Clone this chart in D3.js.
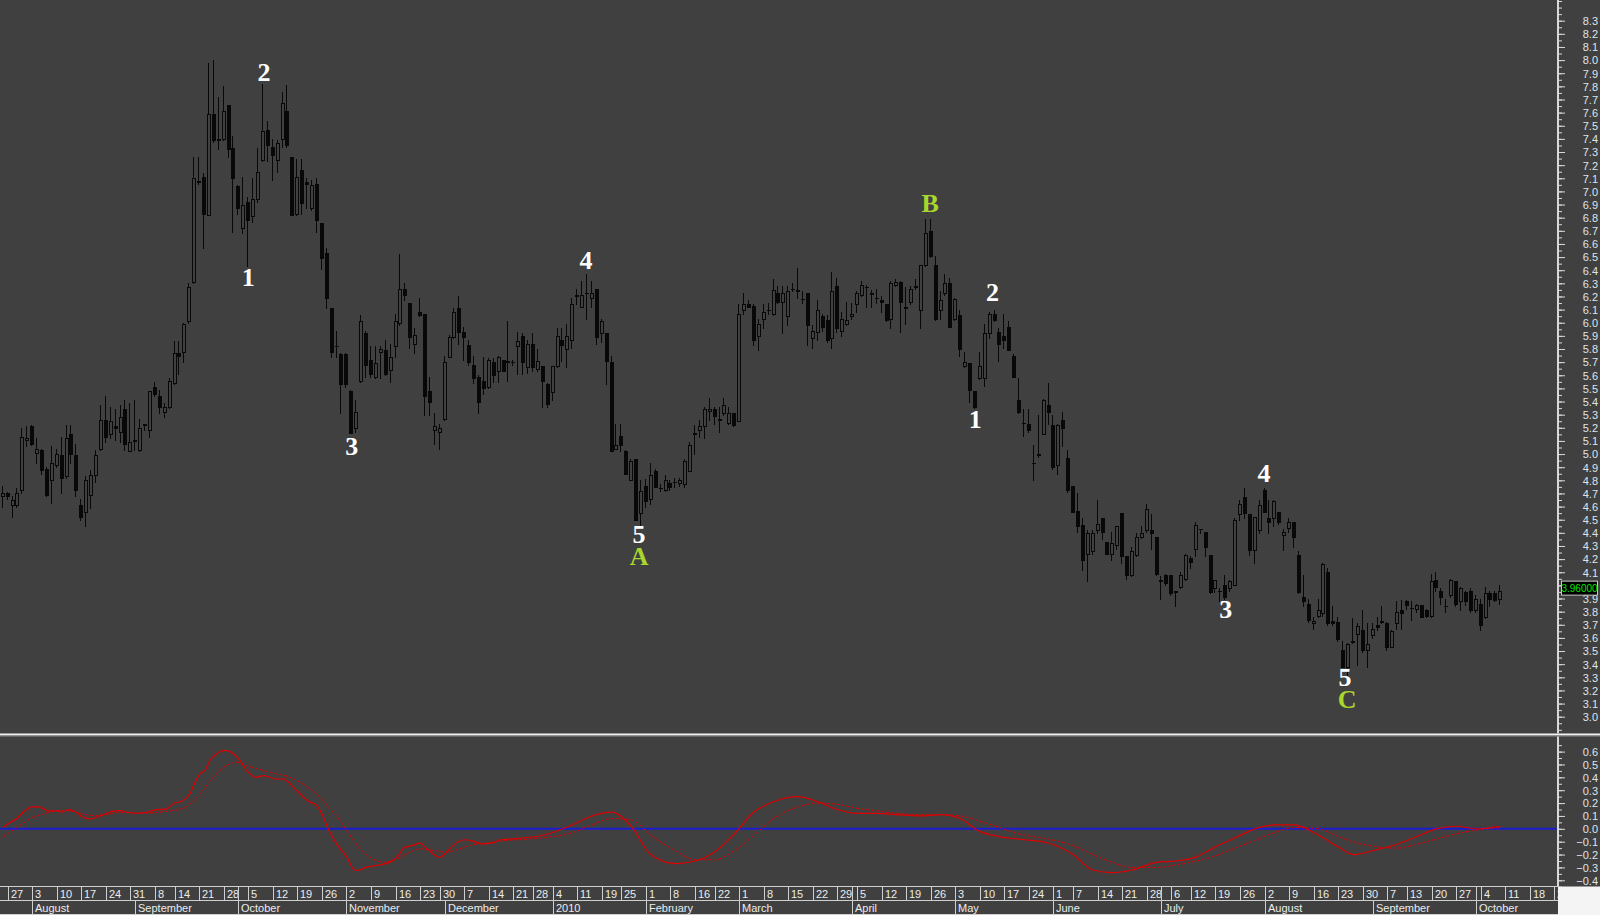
<!DOCTYPE html>
<html>
<head>
<meta charset="utf-8">
<script src="https://cdn.jsdelivr.net/npm/d3@7"></script>
<style>
html, body { margin: 0; padding: 0; background: #404040; overflow: hidden; }
svg { display: block; }
.axis text { font-family: "Liberation Sans", Arial, sans-serif; font-size: 11px; fill: #dfe4ea; }
.axis line { stroke: #d8d8d8; }
.dates text { font-family: "Liberation Sans", Arial, sans-serif; font-size: 11px; fill: #ececec; }
</style>
</head>
<body>
<svg id="chart" width="1600" height="915"></svg>
<script>
// daily prices, one value per trading day from 24 Jul 2009
const opens = [
  4.68,4.70,4.61,4.61,4.73,5.11,5.21,5.01,5.03,4.89,
  4.80,4.92,4.99,4.83,5.15,4.99,4.61,4.56,4.69,4.84,
  5.04,5.26,5.15,5.21,5.17,5.34,5.02,5.11,5.03,5.22,
  5.18,5.51,5.44,5.32,5.36,5.54,5.77,5.78,6.01,6.31,
  7.07,7.11,6.82,7.59,7.40,7.40,7.66,7.33,7.04,6.72,
  6.92,6.81,6.94,7.24,7.47,7.34,7.24,7.40,7.61,7.26,
  6.83,7.16,7.07,6.87,7.06,6.76,6.53,6.11,5.82,5.76,
  5.76,5.48,5.20,5.56,5.92,5.72,5.59,5.78,5.79,5.64,
  5.82,6.00,6.26,6.15,5.84,6.08,6.07,5.48,5.18,5.17,
  5.27,5.74,5.89,6.11,5.93,5.83,5.68,5.59,5.56,5.51,
  5.70,5.63,5.72,5.70,5.70,5.82,
  5.90,5.66,5.84,5.65,5.67,5.53,5.47,5.67,5.87,5.80,
  5.87,6.20,6.12,6.23,6.19,6.26,5.92,5.92,5.70,5.04,
  5.14,5.02,4.80,4.96,4.55,4.76,4.66,4.87,4.74,4.73,
  4.78,4.79,4.78,4.77,4.87,5.15,5.18,5.21,5.33,5.34,
  5.27,5.31,5.24,5.31,5.25,6.10,6.14,6.13,5.90,6.03,
  6.10,6.07,6.23,6.16,6.05,6.26,6.25,6.18,6.23,5.88,
  5.93,6.05,6.02,5.88,6.28,5.94,5.99,6.05,6.14,6.21,
  6.27,6.23,6.19,6.17,6.14,6.03,6.29,6.31,6.12,6.16,
  6.27,6.10,6.44,6.70,6.44,6.10,6.23,6.30,6.03,6.06,
  5.67,5.69,5.48,5.58,5.58,5.92,6.07,5.93,5.90,5.97,
  5.75,5.41,5.24,5.23,4.93,4.99,
  5.15,5.37,5.22,4.92,5.26,4.97,4.76,4.57,4.46,4.24,
  4.26,4.42,4.51,4.33,4.24,4.31,4.55,4.22,4.08,4.23,
  4.37,4.42,4.42,4.37,4.04,4.08,4.08,3.96,3.99,4.05,
  4.21,4.28,4.43,4.41,4.23,3.98,3.96,4.00,3.98,4.00,
  4.54,4.67,4.54,4.27,4.42,4.73,4.51,4.51,4.56,4.38,
  4.44,4.48,4.23,3.91,3.86,3.71,3.77,3.79,4.10,3.73,
  3.72,3.51,3.38,3.57,3.63,3.66,3.51,3.62,3.70,3.73,
  3.71,3.53,3.71,3.81,3.88,3.83,3.82,3.85,3.81,3.77,
  4.04,3.96,3.84,3.93,4.03,3.88,3.95,3.96,3.81,3.86,
  3.76,3.94,3.94,3.90
];
const highs = [
  4.76,4.71,4.68,4.74,5.20,5.21,5.22,5.12,5.04,4.90,
  5.06,5.04,5.13,5.22,5.22,5.08,4.66,4.83,4.88,5.03,
  5.37,5.44,5.36,5.34,5.37,5.41,5.39,5.41,5.27,5.23,
  5.48,5.55,5.49,5.39,5.58,5.86,5.86,6.00,6.30,7.26,
  7.26,7.14,7.98,8.00,7.72,7.80,7.66,7.42,7.05,7.11,
  6.96,7.10,7.33,7.82,7.54,7.40,7.39,7.76,7.81,7.26,
  7.25,7.25,7.10,7.09,7.10,6.76,6.57,6.11,5.94,5.77,
  5.77,5.49,5.41,6.06,5.94,5.82,5.82,5.82,5.87,5.84,
  6.07,6.52,6.30,6.15,5.96,6.19,6.07,5.59,5.31,5.23,
  5.75,5.91,6.11,6.20,5.97,5.87,5.75,5.60,5.74,5.73,
  5.73,5.75,5.72,6.01,5.72,5.93,
  5.92,5.87,5.92,5.80,5.67,5.54,5.67,5.96,5.96,5.99,
  6.19,6.26,6.32,6.37,6.32,6.26,6.03,5.92,5.75,5.23,
  5.23,5.03,4.96,4.96,4.80,4.81,4.93,4.89,4.77,4.84,
  4.80,4.82,4.82,4.96,5.09,5.22,5.26,5.36,5.43,5.36,
  5.36,5.43,5.36,5.31,6.14,6.23,6.17,6.14,6.03,6.14,
  6.15,6.33,6.28,6.28,6.28,6.30,6.42,6.24,6.23,5.98,
  6.17,6.07,6.06,6.39,6.34,6.08,6.16,6.15,6.24,6.32,
  6.29,6.25,6.26,6.20,6.14,6.32,6.33,6.32,6.27,6.28,
  6.33,6.44,6.79,6.79,6.51,6.24,6.37,6.34,6.19,6.10,
  5.78,5.69,5.48,5.78,5.99,6.08,6.10,5.96,6.07,6.01,
  5.76,5.58,5.34,5.34,5.07,5.30,
  5.42,5.54,5.30,5.23,5.32,5.03,4.76,4.70,4.51,4.42,
  4.42,4.65,4.51,4.33,4.41,4.45,4.55,4.22,4.29,4.40,
  4.45,4.62,4.54,4.37,4.07,4.09,4.08,3.96,4.10,4.24,
  4.22,4.48,4.43,4.41,4.23,4.04,3.98,4.08,4.04,4.51,
  4.65,4.74,4.54,4.52,4.65,4.74,4.65,4.65,4.56,4.43,
  4.51,4.48,4.26,4.08,3.90,3.76,3.90,4.17,4.13,3.84,
  3.76,3.58,3.56,3.75,3.71,3.81,3.71,3.71,3.76,3.84,
  3.72,3.66,3.88,3.89,3.89,3.88,3.86,3.85,3.82,4.09,
  4.10,3.98,3.90,4.05,4.03,3.99,3.96,3.98,3.93,3.90,
  3.99,3.96,3.96,4.00
];
const lows = [
  4.60,4.66,4.52,4.60,4.70,5.06,5.07,4.93,4.85,4.68,
  4.63,4.90,4.70,4.82,4.93,4.68,4.50,4.45,4.59,4.79,
  5.03,5.09,5.12,5.11,5.09,5.03,5.02,5.03,5.02,5.18,
  5.13,5.44,5.31,5.28,5.35,5.53,5.61,5.70,6.00,6.30,
  7.06,6.57,6.82,7.38,7.32,7.39,7.26,6.69,6.83,6.68,
  6.43,6.77,6.92,7.23,7.23,7.09,7.15,7.34,7.34,6.82,
  6.82,6.83,6.87,6.86,6.69,6.41,6.11,5.74,5.74,5.31,
  5.51,5.16,5.17,5.55,5.59,5.59,5.58,5.58,5.60,5.55,
  5.74,5.98,6.17,5.81,5.77,6.05,5.30,5.30,5.08,5.04,
  5.26,5.74,5.88,5.84,5.72,5.68,5.54,5.31,5.46,5.50,
  5.55,5.55,5.63,5.56,5.68,5.61,
  5.61,5.62,5.63,5.63,5.36,5.36,5.41,5.66,5.71,5.66,
  5.81,6.14,6.12,6.03,6.12,5.84,5.85,5.53,5.02,5.04,
  5.02,4.85,4.80,4.50,4.44,4.60,4.62,4.75,4.72,4.72,
  4.73,4.75,4.76,4.75,4.87,5.00,5.13,5.12,5.26,5.23,
  5.17,5.30,5.23,5.21,5.25,6.07,6.12,5.83,5.79,5.96,
  6.07,6.06,6.15,5.92,5.98,6.24,6.19,6.15,5.83,5.81,
  5.87,5.94,5.85,5.81,5.93,5.90,5.98,6.03,6.08,6.20,
  6.12,6.12,6.15,6.08,6.01,5.96,6.28,5.93,5.99,6.14,
  6.26,5.96,6.43,6.50,6.02,6.03,6.21,5.97,6.02,5.75,
  5.66,5.40,5.35,5.57,5.52,5.88,6.01,5.71,5.81,5.79,
  5.59,5.31,5.14,5.17,4.80,4.98,
  5.15,5.23,4.89,4.85,5.06,4.71,4.56,4.41,4.12,4.03,
  4.24,4.40,4.35,4.24,4.19,4.28,4.17,4.05,4.07,4.22,
  4.36,4.41,4.28,4.08,3.90,4.00,3.93,3.84,3.98,4.04,
  4.13,4.22,4.40,4.22,3.94,3.95,3.88,3.90,3.96,4.00,
  4.50,4.51,4.23,4.17,4.40,4.56,4.40,4.45,4.47,4.27,
  4.41,4.29,3.94,3.84,3.72,3.67,3.76,3.77,3.70,3.70,
  3.58,3.38,3.32,3.56,3.39,3.49,3.38,3.60,3.66,3.71,
  3.51,3.53,3.67,3.67,3.82,3.74,3.80,3.76,3.76,3.76,
  3.96,3.86,3.80,3.91,3.84,3.81,3.85,3.80,3.80,3.66,
  3.75,3.84,3.88,3.86
];
const closes = [
  4.70,4.68,4.65,4.70,5.13,5.12,5.08,5.04,4.88,4.69,
  4.93,5.00,4.82,5.12,5.00,4.73,4.52,4.80,4.84,4.99,
  5.26,5.13,5.25,5.20,5.28,5.08,5.09,5.10,5.20,5.23,
  5.48,5.46,5.36,5.36,5.56,5.77,5.75,5.99,6.27,7.10,
  7.08,6.83,7.59,7.39,7.39,7.61,7.32,7.10,6.87,6.90,
  6.78,6.94,7.15,7.46,7.35,7.28,7.37,7.67,7.35,6.82,
  7.11,6.91,7.06,7.05,6.78,6.49,6.19,5.78,5.82,5.53,
  5.53,5.16,5.32,6.01,5.68,5.61,5.69,5.80,5.61,5.74,
  6.01,6.26,6.21,5.89,5.91,6.06,5.44,5.40,5.21,5.20,
  5.70,5.89,6.08,5.93,5.89,5.70,5.58,5.40,5.50,5.72,
  5.60,5.74,5.63,5.71,5.70,5.86,
  5.70,5.84,5.66,5.71,5.56,5.38,5.67,5.90,5.83,5.90,
  6.14,6.21,6.21,6.23,6.23,5.89,6.01,5.71,5.02,5.07,
  5.07,4.85,4.95,4.50,4.72,4.64,4.84,4.75,4.74,4.80,
  4.75,4.79,4.80,4.95,5.07,5.16,5.21,5.34,5.34,5.29,
  5.26,5.37,5.31,5.22,6.07,6.14,6.12,5.87,5.99,6.08,
  6.10,6.25,6.16,6.23,6.24,6.26,6.24,6.18,5.98,5.94,
  6.10,5.97,5.87,6.24,5.96,6.03,6.02,6.07,6.23,6.29,
  6.27,6.22,6.19,6.16,6.02,6.30,6.31,6.16,6.11,6.26,
  6.28,6.44,6.68,6.51,6.03,6.17,6.30,5.97,6.18,5.80,
  5.70,5.49,5.36,5.67,5.92,6.07,6.02,5.84,5.87,5.79,
  5.59,5.32,5.24,5.18,4.93,5.00,
  5.41,5.32,4.90,5.22,5.20,4.73,4.56,4.45,4.19,4.40,
  4.40,4.47,4.41,4.24,4.32,4.45,4.22,4.08,4.26,4.37,
  4.40,4.58,4.40,4.09,4.03,4.02,3.94,3.95,4.08,4.23,
  4.18,4.46,4.43,4.29,3.95,4.04,3.96,3.91,4.03,4.50,
  4.62,4.55,4.27,4.52,4.61,4.56,4.48,4.64,4.48,4.41,
  4.48,4.37,3.95,3.88,3.74,3.73,3.81,4.16,3.71,3.71,
  3.59,3.38,3.55,3.58,3.69,3.51,3.55,3.67,3.68,3.72,
  3.53,3.65,3.80,3.79,3.85,3.83,3.85,3.76,3.77,4.03,
  3.99,3.91,3.84,4.04,3.86,3.98,3.88,3.81,3.90,3.70,
  3.94,3.90,3.89,3.96
];

// calendar of the time axis
const firstDay = "2009-07-24";
const lastDay = "2010-10-29";
const holidays = ["2009-09-07","2009-11-26","2009-12-25","2010-01-01","2010-01-18",
                  "2010-02-15","2010-04-02","2010-05-31","2010-07-05","2010-09-06"];

// oscillator (solid) and its signal (dashed), read at candle positions
const oscAt = [0,1.5,2.9,4.2,6.2,7.3,8.3,9.3,11,12,13.4,14.7,16.1,17.8,19.1,20.5,22.5,23.9,25.3,27.3,
  29.3,31,33.4,34.7,36.8,38.1,39.2,40.2,41.2,42.2,43.6,45.3,47,48.3,50,51.7,53.1,54.4,55.8,57.1,
  59.2,60.9,62.6,63.6,65,66.3,68,70.1,71.4,72.1,74.1,76.2,78.9,80.6,81.9,83.6,85,86.4,89.1,90.4,
  92.1,94.2,95.8,97.6,99.6,101.3,103,110,116,120,124,128,132,137,141,145,149,153,157,162,
  166,170,174,178,182,187,191,195,199,203,207,213,218,222,226,230,235,239,243,247,
  251,255,259,263,268,272,275,280,284,288,292,296,300,305];
const oscVals = [0.01,0.05,0.08,0.13,0.17,0.17,0.155,0.14,0.14,0.13,0.147,0.137,0.096,0.077,0.09,0.11,0.137,0.142,0.129,0.121,
  0.129,0.147,0.155,0.194,0.22,0.272,0.363,0.427,0.453,0.531,0.583,0.609,0.583,0.531,0.44,0.401,0.414,0.401,0.386,0.388,
  0.324,0.259,0.207,0.194,0.116,0.0,-0.117,-0.22,-0.311,-0.324,-0.298,-0.285,-0.259,-0.207,-0.142,-0.129,-0.111,-0.155,-0.22,-0.181,
  -0.117,-0.085,-0.096,-0.117,-0.111,-0.085,-0.08,-0.05,0.03,0.10,0.13,0.02,-0.20,-0.27,-0.25,-0.18,-0.04,0.13,0.21,0.25,
  0.21,0.15,0.12,0.12,0.11,0.10,0.11,0.08,-0.02,-0.06,-0.08,-0.11,-0.20,-0.32,-0.34,-0.32,-0.26,-0.25,-0.22,-0.14,
  -0.07,0.0,0.03,0.03,-0.05,-0.14,-0.20,-0.16,-0.12,-0.06,0.0,0.02,0.0,0.02];
const sigAt = [0,1.5,3.5,6.2,8.3,10.3,13,15.7,18.5,21.2,23.9,26.6,29.3,32,34.7,37.5,40.2,42.9,45.6,47.7,
  49.7,53.1,55.8,58.5,60.5,62.6,64.6,66.7,68.7,70.7,72.8,74.8,77.5,79.6,82.3,85,87.7,90.4,93.1,95.8,
  98.6,101.3,103,110,116,120,124,128,132,137,141,145,149,153,157,162,166,170,174,178,
  182,187,191,195,199,203,207,213,218,222,226,230,235,239,243,247,251,255,259,263,
  268,272,275,280,284,288,292,296,300,305];
const sigVals = [-0.065,-0.026,0.026,0.09,0.116,0.137,0.142,0.121,0.103,0.111,0.129,0.124,0.121,0.129,0.142,0.173,0.272,0.401,0.492,0.518,
  0.492,0.453,0.427,0.401,0.362,0.311,0.246,0.155,0.065,-0.052,-0.155,-0.22,-0.259,-0.246,-0.194,-0.155,-0.168,-0.181,-0.155,-0.122,
  -0.111,-0.096,-0.09,-0.07,-0.03,0.03,0.08,0.07,-0.05,-0.17,-0.24,-0.24,-0.17,-0.05,0.08,0.17,0.20,0.19,0.16,0.14,
  0.12,0.11,0.11,0.10,0.06,0.01,-0.04,-0.08,-0.13,-0.20,-0.26,-0.30,-0.30,-0.28,-0.25,-0.21,-0.15,-0.09,-0.03,0.01,
  0.0,-0.06,-0.10,-0.14,-0.15,-0.12,-0.08,-0.04,-0.01,0.01];

// elliott wave marks: text, candle position, price level
const waveText  = ["2","1","3","4","5","A","B","2","1","3","4","5","C"];
const waveAt    = [53.2,50,71.1,118.8,129.6,129.6,188.9,201.6,198.1,249.1,256.9,273.4,273.8];
const wavePrice = [7.905,6.343,5.056,6.477,4.387,4.223,6.905,6.233,5.265,3.817,4.85,3.299,3.128];

// axis ticks
const priceTicks = d3.range(30, 84).map(d => d / 10);
const priceMinor = d3.range(58, 170).map(d => d / 20);
const oscTicks = d3.range(-4, 7).map(d => d / 10);
const oscMinor = d3.range(-9, 14).map(d => d / 20);
const lastPrice = 3.96;

const bg = "#404040";
const axisX = 1558;

var svg = d3.select("#chart");
svg.append("rect").attr("width", 1600).attr("height", 915).attr("fill", bg);

var n = Math.min(opens.length, highs.length, lows.length, closes.length);

// scales
var x = d3.scaleLinear().domain([0, 305]).range([2.7, 1500.25]);
var y = d3.scaleLinear().domain([3.0, 8.3]).range([716.7, 20.7]);
var yo = d3.scaleLinear().domain([-0.4, 0.6]).range([880.3, 751.6]);

// clip regions
var defs = svg.append("defs");
defs.append("clipPath").attr("id", "clipPrice").append("rect")
    .attr("x", 0).attr("y", 0).attr("width", axisX).attr("height", 733);
defs.append("clipPath").attr("id", "clipOsc").append("rect")
    .attr("x", 0).attr("y", 737).attr("width", axisX).attr("height", 149);
defs.append("clipPath").attr("id", "clipDates").append("rect")
    .attr("x", 0).attr("y", 886).attr("width", axisX).attr("height", 29);

drawCandles();
drawWaves();
drawOscillator();
drawPriceAxis();
drawDateAxis();

function drawCandles() {
    var g = svg.append("g").attr("clip-path", "url(#clipPrice)")
        .attr("shape-rendering", "crispEdges");
    for (var i = 0; i < n; i++) {
        var cx = Math.round(x(i));
        var up = closes[i] >= opens[i];
        var top = Math.round(y(Math.max(opens[i], closes[i])));
        var bot = Math.round(y(Math.min(opens[i], closes[i])));
        var hi = Math.round(y(highs[i]));
        var lo = Math.round(y(lows[i]));
        // wick
        g.append("rect").attr("x", cx - 1).attr("y", hi).attr("width", 1)
            .attr("height", Math.max(1, lo - hi + 1)).attr("fill", "#080808");
        // body
        g.append("rect").attr("x", cx - 2).attr("y", top).attr("width", 4)
            .attr("height", Math.max(1, bot - top + 1)).attr("fill", "#080808");
        if (up && bot - top >= 2) {
            g.append("rect").attr("x", cx - 1).attr("y", top + 1).attr("width", 2)
                .attr("height", bot - top - 1).attr("fill", bg);
        }
    }
}

function drawWaves() {
    var g = svg.append("g");
    waveText.forEach(function(t, k) {
        var letter = isNaN(+t);
        g.append("text")
            .attr("x", x(waveAt[k]))
            .attr("y", y(wavePrice[k]))
            .attr("text-anchor", "middle")
            .attr("dominant-baseline", "central")
            .attr("font-family", "'Liberation Serif', 'DejaVu Serif', serif")
            .attr("font-weight", "bold")
            .attr("font-size", 26)
            .attr("fill", letter ? "#a9d62c" : "#ffffff")
            .text(t);
    });
}

function drawOscillator() {
    var g = svg.append("g").attr("clip-path", "url(#clipOsc)");
    // zero line
    g.append("line").attr("x1", 0).attr("x2", axisX)
        .attr("y1", yo(0)).attr("y2", yo(0))
        .attr("stroke", "#1c1cd0").attr("stroke-width", 2);

    var line = d3.line()
        .x(function(d) { return x(d[0]); })
        .y(function(d) { return yo(d[1]); })
        .curve(d3.curveMonotoneX);

    g.append("path").datum(d3.zip(sigAt, sigVals))
        .attr("d", line).attr("fill", "none")
        .attr("stroke", "#e00000").attr("stroke-width", 1)
        .attr("stroke-dasharray", "3,2");
    g.append("path").datum(d3.zip(oscAt, oscVals))
        .attr("d", line).attr("fill", "none")
        .attr("stroke", "#e00000").attr("stroke-width", 1.2);
}

function drawPriceAxis() {
    // panel divider
    svg.append("rect").attr("x", 0).attr("y", 733.5).attr("width", 1600).attr("height", 2).attr("fill", "#f2f2f2");
    svg.append("rect").attr("x", 0).attr("y", 735.5).attr("width", 1600).attr("height", 1).attr("fill", "#8a8a8a");

    // vertical axis line
    svg.append("rect").attr("x", axisX - 1).attr("y", 0).attr("width", 2).attr("height", 733.5).attr("fill", "#d8d8d8");
    svg.append("rect").attr("x", axisX - 1).attr("y", 736.5).attr("width", 2).attr("height", 150).attr("fill", "#d8d8d8");

    var gp = svg.append("g").attr("class", "axis").attr("transform", "translate(" + axisX + ",0)");
    gp.append("g").call(d3.axisRight(y).tickValues(priceMinor).tickSize(4).tickFormat(""))
        .call(function(a) { a.select(".domain").remove(); });
    gp.append("g").call(d3.axisRight(y).tickValues(priceTicks).tickSize(7).tickFormat(d3.format(".1f")))
        .call(function(a) {
            a.select(".domain").remove();
            a.selectAll("text").attr("x", 40).attr("text-anchor", "end").attr("dy", "0.35em");
        });

    var go = svg.append("g").attr("class", "axis").attr("transform", "translate(" + axisX + ",0)");
    go.append("g").call(d3.axisRight(yo).tickValues(oscMinor).tickSize(4).tickFormat(""))
        .call(function(a) { a.select(".domain").remove(); });
    go.append("g").call(d3.axisRight(yo).tickValues(oscTicks).tickSize(7).tickFormat(d3.format(".1f")))
        .call(function(a) {
            a.select(".domain").remove();
            a.selectAll("text").attr("x", 40).attr("text-anchor", "end").attr("dy", "0.35em");
        });

    // last price tag
    var tag = svg.append("g");
    tag.append("rect").attr("x", 1561.5).attr("y", y(lastPrice) - 9.5).attr("width", 36).attr("height", 14)
        .attr("fill", "#000").attr("stroke", "#c8c8c8");
    tag.append("text").attr("x", 1579.5).attr("y", y(lastPrice) - 2.5)
        .attr("text-anchor", "middle").attr("dominant-baseline", "central")
        .attr("font-family", "'Liberation Sans', Arial, sans-serif").attr("font-size", 10)
        .attr("fill", "#00e400").text(d3.format(".5f")(lastPrice));
}

function drawDateAxis() {
    var parseDay = d3.timeParse("%Y-%m-%d");
    var fmt = d3.timeFormat("%Y-%m-%d");
    var monthName = d3.timeFormat("%B");
    var skip = new Set(holidays);
    var days = d3.timeDay.range(parseDay(firstDay), d3.timeDay.offset(parseDay(lastDay), 1))
        .filter(function(d) { return d.getDay() > 0 && d.getDay() < 6 && !skip.has(fmt(d)); });

    // cells start at each new week (and each new quarter) in the top row,
    // and at each new month in the bottom row
    var dayCells = [], monthCells = [];
    days.forEach(function(d, i) {
        if (i == 0) {
            dayCells.push({ i: 0, label: "" });
            monthCells.push({ i: 0, label: "" });
            return;
        }
        var prev = days[i - 1];
        var newWeek = +d3.timeMonday.floor(d) != +d3.timeMonday.floor(prev);
        var newMonth = d.getMonth() != prev.getMonth();
        var newQuarter = newMonth && d.getMonth() % 3 == 0;
        if (newWeek) dayCells.push({ i: i, label: String(d.getDate()) });
        else if (newQuarter) dayCells.push({ i: i, label: "" });
        if (newMonth) monthCells.push({ i: i, label: d.getMonth() == 0 ? String(d.getFullYear()) : monthName(d) });
    });

    var top = 886.5, rowH = 14;
    var g = svg.append("g").attr("class", "dates").attr("clip-path", "url(#clipDates)");
    [dayCells, monthCells].forEach(function(cells, row) {
        var y0 = top + row * rowH;
        cells.forEach(function(c, k) {
            var x0 = k == 0 ? -2 : Math.round(x(c.i)) + 0.5;
            var x1 = k + 1 < cells.length ? Math.round(x(cells[k + 1].i)) + 0.5 : axisX + 10;
            g.append("rect").attr("x", x0).attr("y", y0).attr("width", x1 - x0).attr("height", rowH)
                .attr("fill", bg).attr("stroke", "#cfcfcf").attr("stroke-width", 1);
            if (c.label) {
                g.append("text").attr("x", x0 + 2.5).attr("y", y0 + 11.5).text(c.label);
            }
        });
    });
    // empty corner under the value axis
    svg.append("rect").attr("x", axisX).attr("y", 886.5).attr("width", 1600 - axisX).attr("height", 29).attr("fill", "#f4f4f4");
}
</script>
</body>
</html>
